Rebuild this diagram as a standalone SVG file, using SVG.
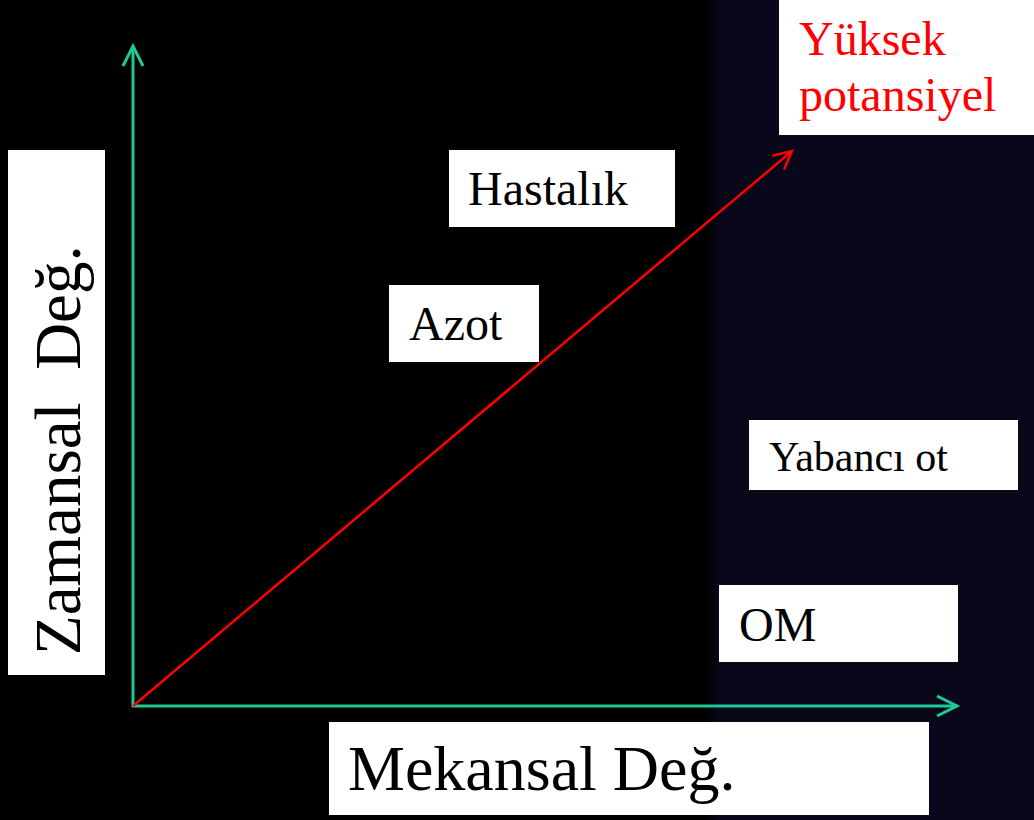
<svg xmlns="http://www.w3.org/2000/svg" width="1034" height="820" viewBox="0 0 1034 820">
  <defs>
    <linearGradient id="bg" x1="0" y1="0" x2="1034" y2="0" gradientUnits="userSpaceOnUse">
      <stop offset="0.684" stop-color="#000000"/>
      <stop offset="0.695" stop-color="#08081a"/>
      <stop offset="1" stop-color="#08081a"/>
    </linearGradient>
    <marker id="tealHead" viewBox="-24 -14 28 28" markerWidth="28" markerHeight="28" refX="0" refY="0" markerUnits="userSpaceOnUse" orient="auto">
      <path d="M-20,-10 L0,0 L-20,10" fill="none" stroke="#1ec997" stroke-width="3"/>
    </marker>
    <marker id="redHead" viewBox="-22 -12 26 24" markerWidth="26" markerHeight="24" refX="0" refY="0" markerUnits="userSpaceOnUse" orient="auto">
      <path d="M-18,-9 L0,0 L-18,9" fill="none" stroke="#ff0000" stroke-width="2.5"/>
    </marker>
  </defs>
  <style>
    .box { fill: #ffffff; }
    .lbl { font-family: "Liberation Serif", "Times New Roman", serif; fill: #000000; }
    .hot { font-family: "Liberation Serif", "Times New Roman", serif; fill: #ff0000; font-size: 48px; }
    .axis { stroke: #1ec997; stroke-width: 3; fill: none; marker-end: url(#tealHead); }
    .trend { stroke: #ff0000; stroke-width: 2.5; fill: none; marker-end: url(#redHead); }
  </style>

  <rect x="0" y="0" width="1034" height="820" fill="url(#bg)"/>

  <g id="connectors">
    <line class="axis" x1="133" y1="707" x2="133" y2="46"/>
    <line class="axis" x1="132" y1="706" x2="957" y2="706"/>
    <line class="trend" x1="133" y1="706" x2="792" y2="151"/>
  </g>

  <g id="yAxisLabel">
    <rect class="box" x="8" y="150" width="97" height="525"/>
    <text class="lbl" font-size="65" xml:space="preserve" style="white-space: pre" transform="translate(80,655) rotate(-90)">Zamansal  Değ.</text>
  </g>

  <g id="xAxisLabel">
    <rect class="box" x="329" y="722" width="600" height="93"/>
    <text class="lbl" font-size="64" x="348" y="790">Mekansal Değ.</text>
  </g>

  <g id="highPotential">
    <rect class="box" x="779" y="0" width="255" height="135"/>
    <text class="hot" x="799" y="55">Yüksek</text>
    <text class="hot" x="799" y="111">potansiyel</text>
  </g>

  <g id="hastalik">
    <rect class="box" x="449" y="150" width="226" height="77"/>
    <text class="lbl" font-size="48" x="468" y="205">Hastalık</text>
  </g>

  <g id="azot">
    <rect class="box" x="389" y="285" width="150" height="77"/>
    <text class="lbl" font-size="48" x="409" y="340">Azot</text>
  </g>

  <g id="yabanciOt">
    <rect class="box" x="749" y="420" width="269" height="70"/>
    <text class="lbl" font-size="42" x="769" y="471">Yabancı ot</text>
  </g>

  <g id="om">
    <rect class="box" x="719" y="585" width="239" height="77"/>
    <text class="lbl" font-size="48" x="739" y="641">OM</text>
  </g>
</svg>
